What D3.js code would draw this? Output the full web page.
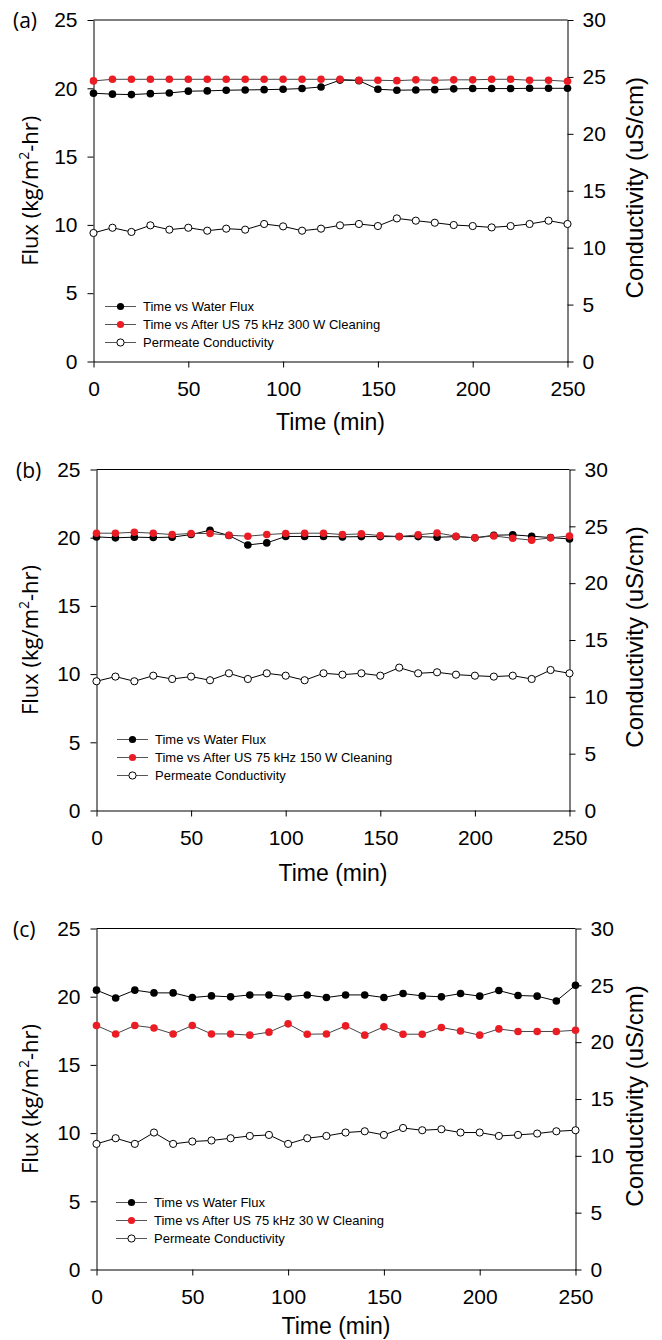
<!DOCTYPE html>
<html lang="en">
<head>
    <meta charset="UTF-8">
    <title>Flux and Permeate Conductivity after US Cleaning</title>
    <script src="https://cdnjs.cloudflare.com/ajax/libs/d3/7.8.5/d3.min.js"></script>
    <style>
        body { margin: 0; background: #fff; }
        .tick text { font-family: "Liberation Sans", Arial, sans-serif; }
    </style>
</head>
<body>
    <div id="chart"></div>
    <script>
        // Time axis (min)
        const timeMin = [0, 10, 20, 30, 40, 50, 60, 70, 80, 90, 100, 110, 120, 130, 140, 150, 160, 170, 180, 190, 200, 210, 220, 230, 240, 250];

        // (a) 300 W
        const fluxA = [19.64, 19.57, 19.54, 19.61, 19.66, 19.79, 19.81, 19.86, 19.88, 19.90, 19.93, 19.98, 20.10, 20.60, 20.56, 19.93, 19.86, 19.88, 19.90, 19.96, 19.98, 19.98, 19.98, 20.00, 20.00, 20.00];
        const cleanA = [20.54, 20.66, 20.66, 20.66, 20.66, 20.66, 20.66, 20.66, 20.66, 20.66, 20.66, 20.66, 20.66, 20.66, 20.59, 20.59, 20.56, 20.62, 20.59, 20.62, 20.62, 20.66, 20.66, 20.59, 20.59, 20.51];
        const condA = [11.29, 11.75, 11.38, 11.96, 11.58, 11.75, 11.49, 11.67, 11.58, 12.08, 11.87, 11.49, 11.67, 11.96, 12.08, 11.90, 12.57, 12.37, 12.19, 11.99, 11.90, 11.78, 11.90, 12.08, 12.37, 12.08];

        // (b) 150 W
        const fluxB = [20.06, 19.99, 20.04, 20.01, 20.04, 20.23, 20.55, 20.16, 19.47, 19.62, 20.09, 20.09, 20.09, 20.06, 20.08, 20.08, 20.08, 20.08, 20.03, 20.08, 19.99, 20.18, 20.21, 20.11, 20.01, 19.91];
        const cleanB = [20.33, 20.33, 20.40, 20.33, 20.23, 20.31, 20.31, 20.18, 20.11, 20.23, 20.31, 20.33, 20.33, 20.23, 20.28, 20.16, 20.09, 20.21, 20.35, 20.11, 19.99, 20.13, 19.96, 19.82, 19.99, 20.13];
        const condB = [11.37, 11.78, 11.37, 11.86, 11.57, 11.78, 11.46, 12.07, 11.57, 12.07, 11.86, 11.46, 12.07, 11.95, 12.07, 11.86, 12.57, 12.07, 12.16, 11.95, 11.86, 11.78, 11.86, 11.57, 12.36, 12.07];

        // (c) 30 W
        const fluxC = [20.48, 19.91, 20.48, 20.28, 20.28, 19.94, 20.06, 19.99, 20.13, 20.13, 19.99, 20.13, 19.94, 20.13, 20.13, 19.94, 20.23, 20.06, 19.99, 20.23, 20.04, 20.45, 20.09, 20.04, 19.69, 20.84];
        const cleanC = [17.89, 17.27, 17.89, 17.71, 17.27, 17.89, 17.27, 17.27, 17.18, 17.40, 18.01, 17.25, 17.27, 17.86, 17.18, 17.79, 17.25, 17.25, 17.74, 17.49, 17.18, 17.64, 17.45, 17.45, 17.45, 17.54];
        const condC = [11.05, 11.55, 11.05, 12.05, 11.05, 11.26, 11.35, 11.55, 11.75, 11.84, 11.05, 11.55, 11.75, 12.05, 12.16, 11.84, 12.45, 12.25, 12.34, 12.05, 12.05, 11.75, 11.84, 11.96, 12.16, 12.25];

        // Tick values
        const xTicks = [0, 50, 100, 150, 200, 250];
        const fluxTicks = [0, 5, 10, 15, 20, 25];
        const condTicks = [0, 5, 10, 15, 20, 25, 30];

        const panelLabels = ["(a)", "(b)", "(c)"];
        const cleaningNames = [
            "Time vs After US 75 kHz 300 W Cleaning",
            "Time vs After US 75 kHz 150 W Cleaning",
            "Time vs After US 75 kHz 30 W Cleaning"
        ];

        const RED = "#ec1c24";
        const sans = "'Liberation Sans', Arial, sans-serif";
        const humanist = "'Open Sans', 'Noto Sans', sans-serif";

        // layout of each panel (pixel box of the plot area)
        const panels = [
            { x0: 93.5, x1: 567.5, top: 20, bottom: 361.5, titleGap: 68, legX: 105, legY: 306.5, flux: fluxA, clean: cleanA, cond: condA },
            { x0: 96.5, x1: 569.5, top: 469.5, bottom: 810.5, titleGap: 70, legX: 117, legY: 739.5, flux: fluxB, clean: cleanB, cond: condB },
            { x0: 96.5, x1: 575.5, top: 928.5, bottom: 1269.5, titleGap: 64, legX: 116, legY: 1202.5, flux: fluxC, clean: cleanC, cond: condC }
        ];

        const svg = d3.select("#chart")
            .append("svg")
            .attr("width", 662)
            .attr("height", 1340);

        panels.forEach(function(p, i) {
            const g = svg.append("g");

            const x = d3.scaleLinear().domain([0, 250]).range([p.x0, p.x1]);
            const yL = d3.scaleLinear().domain([0, 25]).range([p.bottom, p.top]);
            const yR = d3.scaleLinear().domain([0, 30]).range([p.bottom, p.top]);

            // top frame line
            g.append("line")
                .attr("x1", p.x0).attr("x2", p.x1)
                .attr("y1", p.top).attr("y2", p.top)
                .attr("stroke", "#000").attr("stroke-width", 1);

            // axes
            const axL = g.append("g")
                .attr("transform", "translate(" + p.x0 + ",0)")
                .call(d3.axisLeft(yL).tickValues(fluxTicks).tickSize(6).tickSizeOuter(0).tickPadding(10));
            const axR = g.append("g")
                .attr("transform", "translate(" + p.x1 + ",0)")
                .call(d3.axisRight(yR).tickValues(condTicks).tickSize(6).tickSizeOuter(0).tickPadding(9));
            const axB = g.append("g")
                .attr("transform", "translate(0," + p.bottom + ")")
                .call(d3.axisBottom(x).tickValues(xTicks).tickSize(6).tickSizeOuter(0).tickPadding(14));

            [axL, axR, axB].forEach(function(ax) {
                ax.selectAll("text").attr("font-size", 21).attr("fill", "#000");
                ax.selectAll("line, path").attr("stroke", "#000");
                ax.attr("font-family", sans);
            });

            // series lines
            const lineCond = d3.line().x((d, j) => x(timeMin[j])).y(d => yR(d));
            const lineFlux = d3.line().x((d, j) => x(timeMin[j])).y(d => yL(d));

            g.append("path").datum(p.cond)
                .attr("d", lineCond).attr("fill", "none").attr("stroke", "#000").attr("stroke-width", 1);
            g.append("path").datum(p.flux)
                .attr("d", lineFlux).attr("fill", "none").attr("stroke", "#000").attr("stroke-width", 1);
            g.append("path").datum(p.clean)
                .attr("d", lineFlux).attr("fill", "none").attr("stroke", "#444").attr("stroke-width", 1);

            // markers
            g.append("g").selectAll("circle")
                .data(p.cond).enter().append("circle")
                .attr("cx", (d, j) => x(timeMin[j])).attr("cy", d => yR(d))
                .attr("r", 3.6).attr("fill", "#fff").attr("stroke", "#000").attr("stroke-width", 1);
            g.append("g").selectAll("circle")
                .data(p.flux).enter().append("circle")
                .attr("cx", (d, j) => x(timeMin[j])).attr("cy", d => yL(d))
                .attr("r", 3.8).attr("fill", "#000");
            g.append("g").selectAll("circle")
                .data(p.clean).enter().append("circle")
                .attr("cx", (d, j) => x(timeMin[j])).attr("cy", d => yL(d))
                .attr("r", 3.8).attr("fill", RED);

            // legend
            const legendItems = [
                { name: "Time vs Water Flux", fill: "#000", stroke: "none" },
                { name: cleaningNames[i], fill: RED, stroke: "none" },
                { name: "Permeate Conductivity", fill: "#fff", stroke: "#000" }
            ];
            legendItems.forEach(function(item, k) {
                const ly = p.legY + k * 18;
                g.append("line")
                    .attr("x1", p.legX).attr("x2", p.legX + 31)
                    .attr("y1", ly).attr("y2", ly)
                    .attr("stroke", "#555").attr("stroke-width", 1);
                g.append("circle")
                    .attr("cx", p.legX + 15.5).attr("cy", ly).attr("r", 3.6)
                    .attr("fill", item.fill).attr("stroke", item.stroke).attr("stroke-width", 1);
                g.append("text")
                    .attr("x", p.legX + 38).attr("y", ly + 4.5)
                    .attr("font-family", sans).attr("font-size", 13)
                    .text(item.name);
            });

            // axis titles
            g.append("text")
                .attr("x", (p.x0 + p.x1) / 2).attr("y", p.bottom + p.titleGap)
                .attr("text-anchor", "middle")
                .attr("font-family", sans).attr("font-size", 23)
                .text("Time (min)");

            const fluxTitle = g.append("text")
                .attr("transform", "translate(38," + ((p.top + p.bottom) / 2) + ") rotate(-90)")
                .attr("text-anchor", "middle")
                .attr("font-family", humanist).attr("font-size", 22);
            fluxTitle.append("tspan").text("Flux (kg/m");
            fluxTitle.append("tspan").attr("font-size", 14).attr("dy", -9).text("2");
            fluxTitle.append("tspan").attr("dy", 9).text("-hr)");

            g.append("text")
                .attr("transform", "translate(643," + ((p.top + p.bottom) / 2 - 3) + ") rotate(-90)")
                .attr("text-anchor", "middle")
                .attr("font-family", sans).attr("font-size", 24)
                .text("Conductivity (uS/cm)");

            // panel label
            g.append("text")
                .attr("x", i === 1 ? 16 : 13).attr("y", p.top + 8)
                .attr("font-family", humanist).attr("font-size", 21)
                .text(panelLabels[i]);
        });
    </script>
</body>
</html>
